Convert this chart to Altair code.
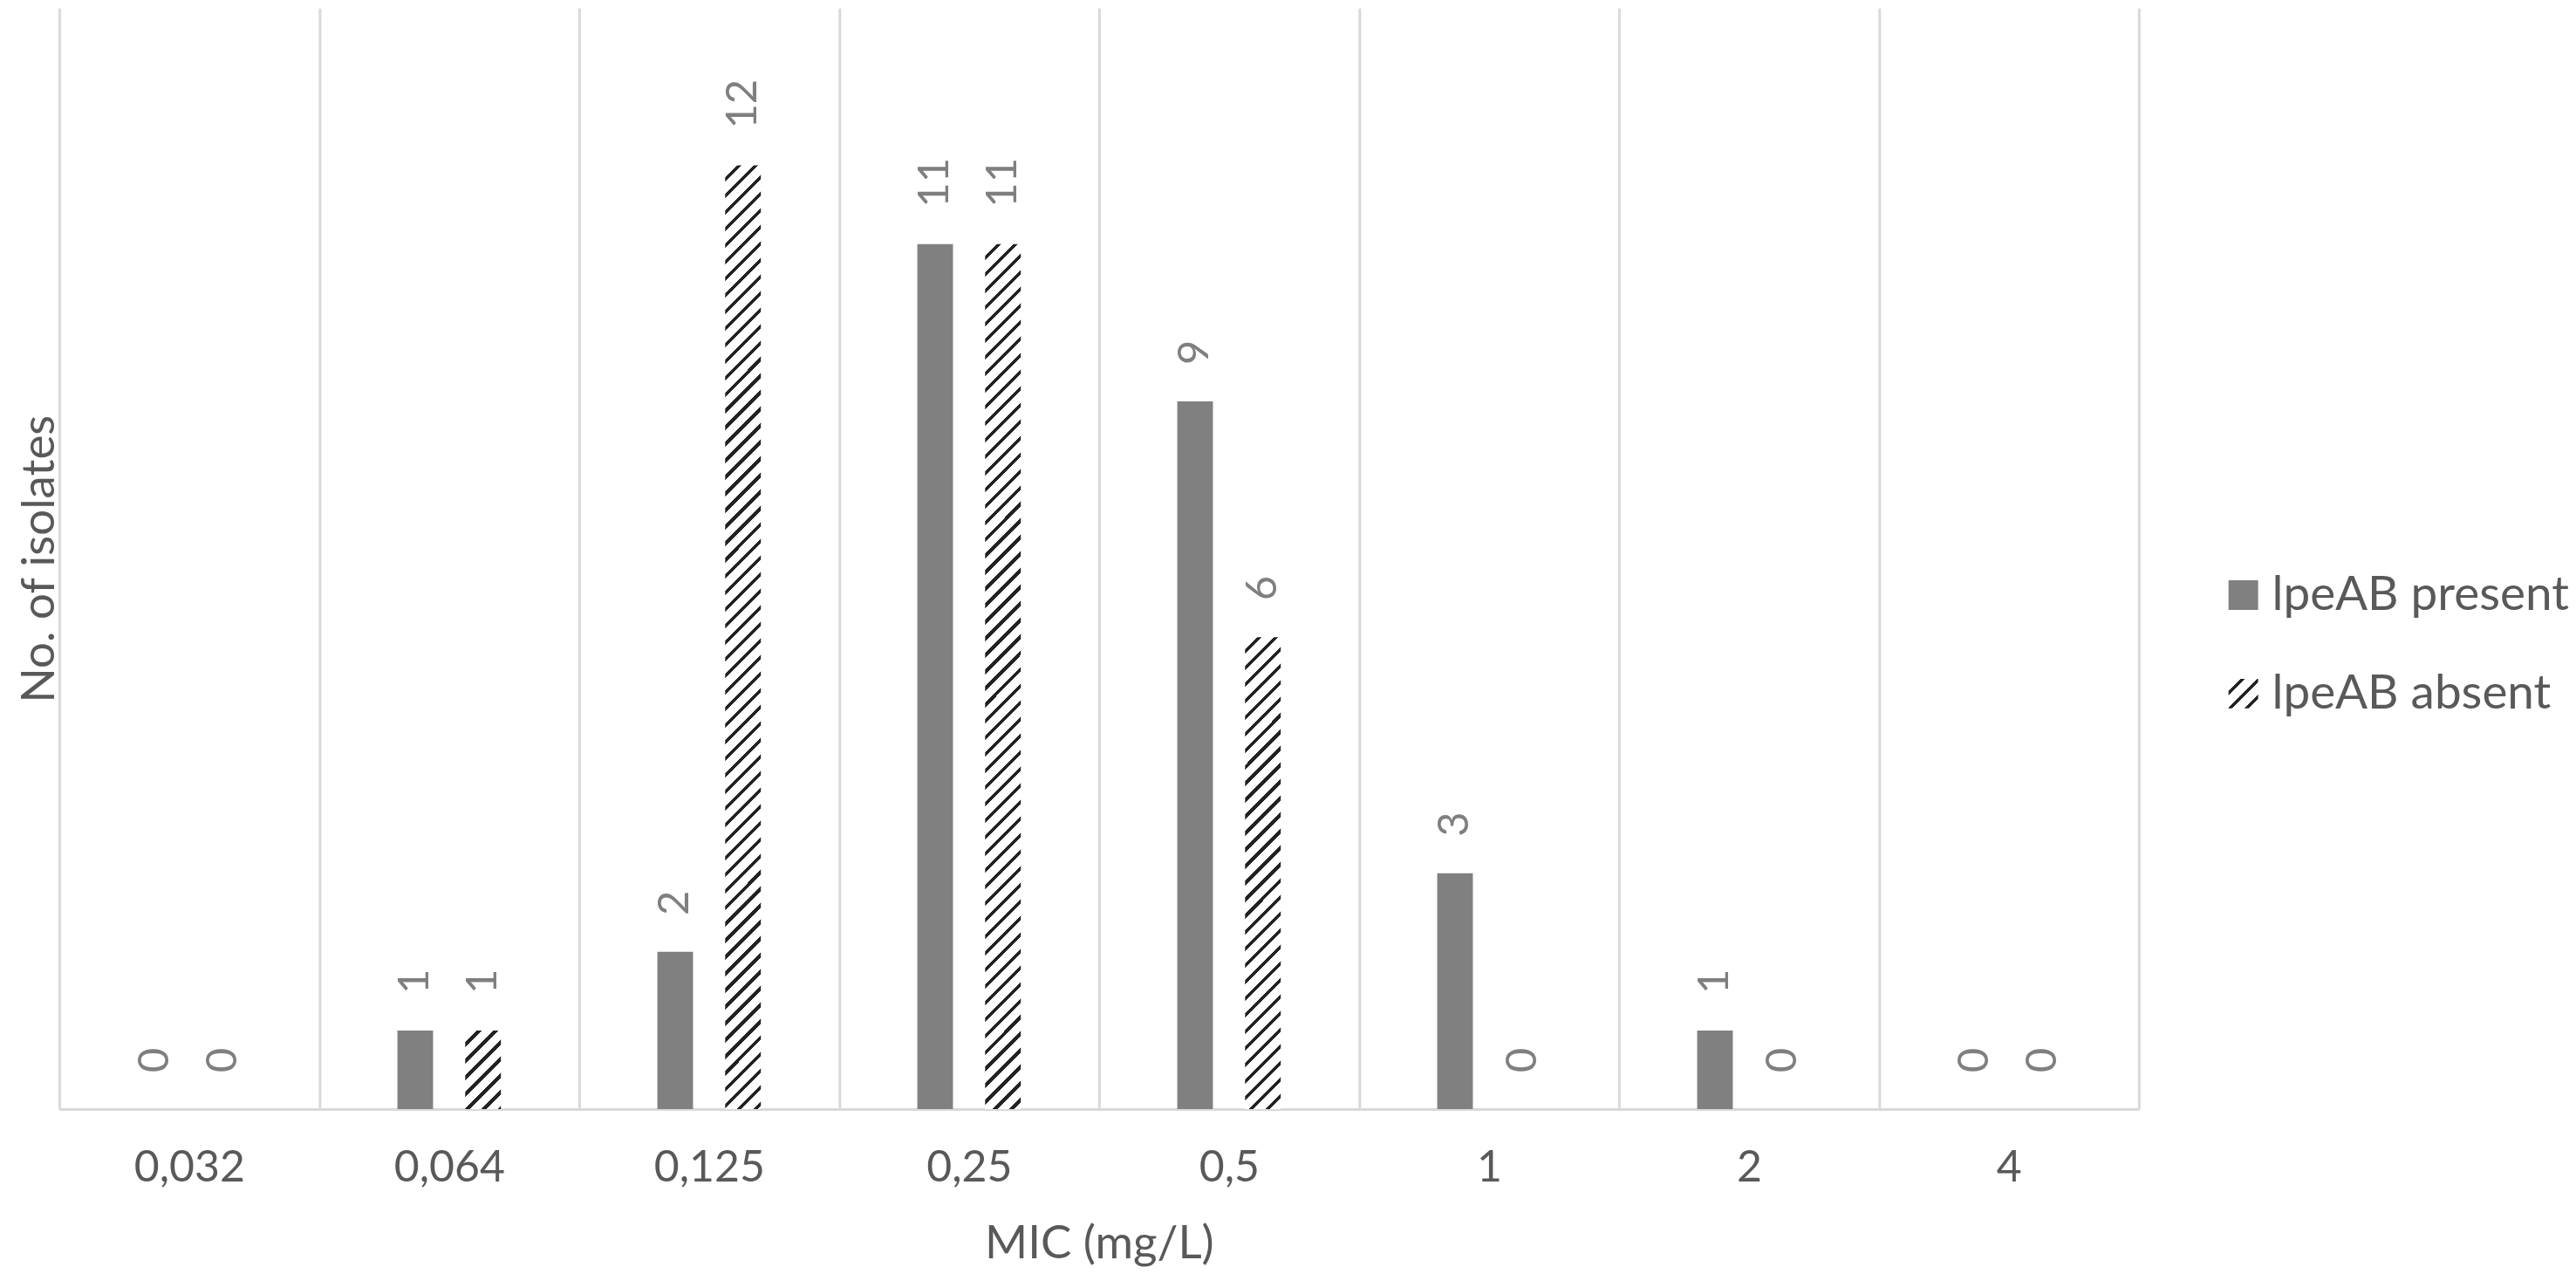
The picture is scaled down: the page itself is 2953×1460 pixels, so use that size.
import altair as alt

# ---- data ----
mic_labels = ["0,032", "0,064", "0,125", "0,25", "0,5", "1", "2", "4"]
series = ["lpeAB present", "lpeAB absent"]
present = [0, 1, 2, 11, 9, 3, 1, 0]
absent = [0, 1, 12, 11, 6, 0, 0, 0]

# ---- layout / style ----
PLOT_W, PLOT_H = 2388, 1264
Y_MAX = 14
BAR_W = 41
PERIOD = 19
FONT = "Lato"
TEXT = "#595959"
GRID = "#d9d9d9"
SOLID = "#808080"


def hatch(w, h):
    """Diagonal hatch emulated with a linear gradient in bbox units."""
    n = (w + h) / PERIOD
    c = (w + h) / (w * w + h * h)
    stops = []
    k = 0
    fw = 0.72
    while k < n:
        a = round(k / n, 6)
        b = round(min((k + fw) / n, 1), 6)
        e = round(min((k + 1) / n, 1), 6)
        stops += [{"offset": a, "color": "#ffffff"}, {"offset": b, "color": "#ffffff"}]
        if b < 1:
            stops += [{"offset": b, "color": "#222222"}, {"offset": e, "color": "#222222"}]
        k += 1
    return {"gradient": "linear", "x1": 0, "y1": 0,
            "x2": round(c * w, 6), "y2": round(c * h, 6), "stops": stops}


rows = []
for i, m in enumerate(mic_labels):
    for s, vals in zip(series, [present, absent]):
        v = vals[i]
        if s == series[0]:
            fill = SOLID
        else:
            fill = hatch(BAR_W, v * PLOT_H / Y_MAX) if v > 0 else "#ffffff"
        rows.append({"mic": m, "series": s, "count": v, "fill": fill})

# spacer slots on both sides of the two bars inside each category
offset_domain = ["_l"] + series + ["_r"]

base = alt.Chart(alt.Data(values=rows)).encode(
    x=alt.X(
        "mic:N", sort=mic_labels, title="MIC (mg/L)",
        scale=alt.Scale(paddingInner=0, paddingOuter=0),
        axis=alt.Axis(
            labelAngle=0, labelFontSize=50, labelColor=TEXT, labelFont=FONT,
            labelPadding=43, ticks=False, grid=True, tickBand="extent",
            gridColor=GRID, gridWidth=3, domainColor=GRID, domainWidth=3,
            titleFontSize=53, titleColor=TEXT, titleFont=FONT,
            titleFontWeight="normal", titlePadding=36,
        ),
    ),
    xOffset=alt.XOffset(
        "series:N",
        scale=alt.Scale(domain=offset_domain, paddingInner=0.474, paddingOuter=0.154),
    ),
    y=alt.Y(
        "count:Q", title="No. of isolates",
        scale=alt.Scale(domain=[0, Y_MAX], nice=False),
        axis=alt.Axis(
            labels=False, ticks=False, grid=False, domain=False,
            titleFontSize=53, titleColor=TEXT, titleFont=FONT,
            titleFontWeight="normal", titlePadding=6, titleBaseline="alphabetic",
        ),
    ),
)

bars = base.mark_bar().encode(fill=alt.Fill("fill:N", scale=None))
labels = base.mark_text(
    angle=270, align="left", baseline="middle", dx=42,
    fontSize=49, font=FONT, color="#7f7f7f",
).encode(text="count:Q")

main = alt.layer(bars, labels).properties(width=PLOT_W, height=PLOT_H)

legend_rows = [
    {"series": s, "fill": (SOLID if i == 0 else hatch(34, 34))}
    for i, s in enumerate(series)
]
leg_base = alt.Chart(alt.Data(values=legend_rows)).encode(
    y=alt.Y("series:N", sort=series, axis=None,
            scale=alt.Scale(type="point", domain=series, range=[674, 787], padding=0)),
)
leg_sym = leg_base.mark_point(shape="square", size=1156, filled=True,
                              strokeWidth=0, opacity=1, x=17).encode(
    fill=alt.Fill("fill:N", scale=None))
leg_txt = leg_base.mark_text(align="left", baseline="middle", x=50,
                             fontSize=55, font=FONT, color=TEXT).encode(text="series:N")
legend = alt.layer(leg_sym, leg_txt).properties(width=380, height=PLOT_H)

chart = alt.hconcat(
    main, legend, spacing=103,
    padding={"left": 12, "top": 0, "right": 0, "bottom": 0},
).configure(font=FONT).configure_view(strokeWidth=0, stroke="transparent")

chart.save("out.html", embed_options={"renderer": "svg", "actions": False})
